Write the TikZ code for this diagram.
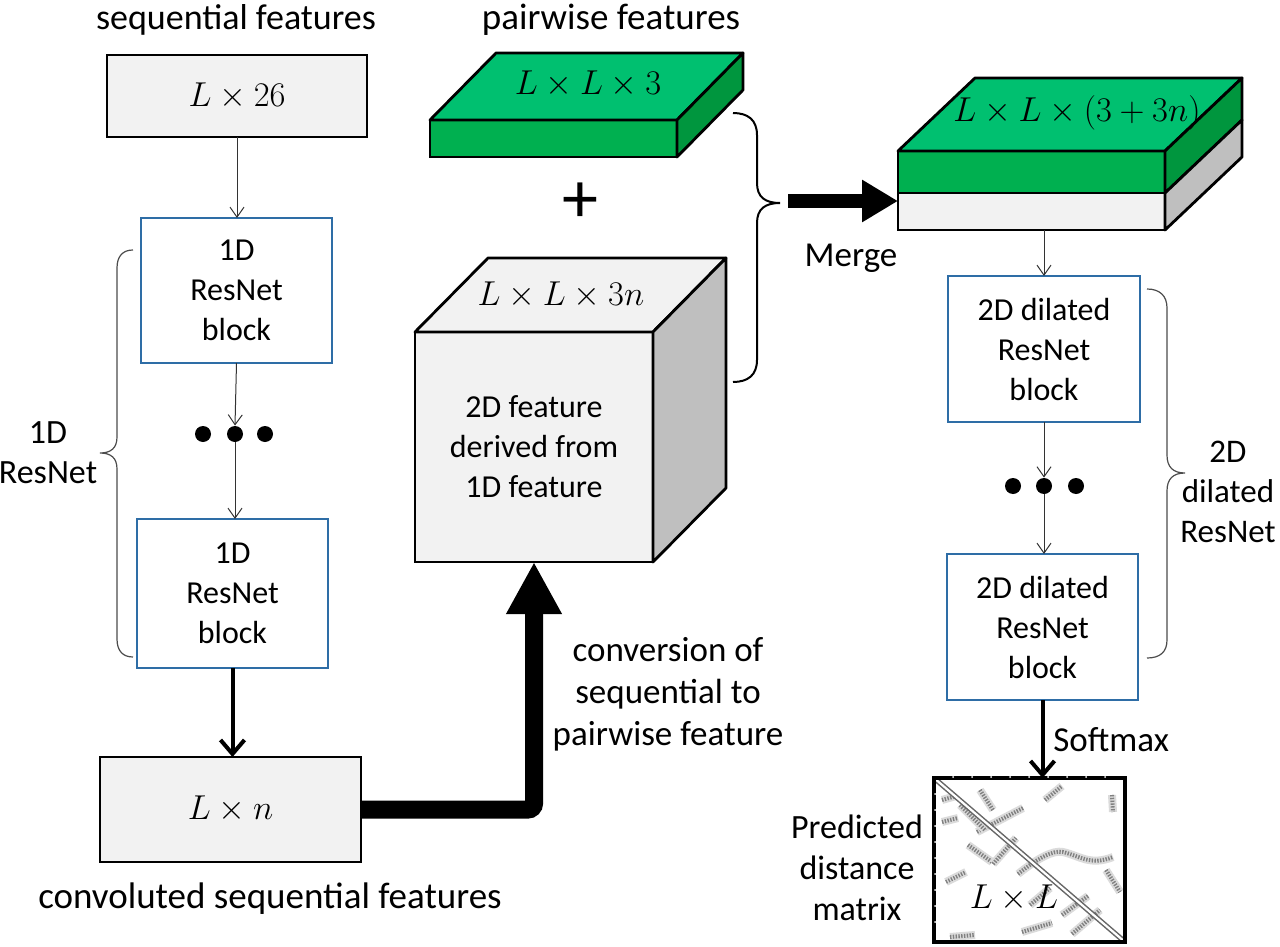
\documentclass[tikz,border=0pt]{standalone}
\usepackage[no-math]{fontspec}
\setmainfont{Carlito}
\usetikzlibrary{arrows.meta,calc}
\definecolor{boxgray}{HTML}{F2F2F2}
\definecolor{sidegray}{HTML}{BFBFBF}
\definecolor{resblue}{HTML}{2E6DA6}
\definecolor{gtop}{RGB}{0,192,112}
\definecolor{gfront}{RGB}{0,176,80}
\definecolor{gside}{RGB}{0,150,62}
\begin{document}
\begin{tikzpicture}[x=0.5pt,y=-0.5pt, font=\fontsize{16}{20}\selectfont]
\useasboundingbox (0,0) rectangle (1280,947);
\tikzset{
 graybox/.style={draw=black, line width=1.4pt, fill=boxgray, inner sep=0pt, outer sep=0pt},
 slab/.style={draw=black, line width=1.4pt, inner sep=0pt, outer sep=0pt},
 face/.style={draw=black, line width=1.4pt, line join=round},
 resbox/.style={draw=resblue, line width=1.3pt, fill=white, align=center, inner sep=0pt, outer sep=0pt},
 thinarr/.style={draw=black!80, line width=0.5pt, -{Straight Barb[length=5pt,width=7pt]}},
 thickarr/.style={line width=2pt, -{Straight Barb[length=7pt,width=12pt]}},
 bigarr/.style={line width=9pt, -{Triangle[length=26pt,width=26pt]}, rounded corners=3pt},
 mergearr/.style={line width=7pt, -{Triangle[length=18pt,width=20pt]}},
 lbl/.style={align=center, inner sep=0pt},
 biglbl/.style={align=center, inner sep=0pt, font=\fontsize{18.5}{21}\selectfont},
 midlbl/.style={align=center, inner sep=0pt, font=\fontsize{17.5}{21}\selectfont},
 mathsize/.style={font=\fontsize{17}{20}\selectfont},
 bigdot/.style={circle, fill=black, minimum size=8pt, inner sep=0pt},
 brace/.style={line width=0.6pt, draw=black!70},
 speck/.style={line width=2pt, draw=black!50, dash pattern=on 0.7pt off 0.7pt, line cap=butt,
   preaction={draw=black!14, line width=4pt, solid, line cap=butt}},
}
% ---------- left column ----------
\node[biglbl, font=\fontsize{18}{21}\selectfont] (seqlbl) at (236,20) {sequential features};
\node[graybox, mathsize, minimum width=130pt, minimum height=41pt] (seq) at (237,96) {$L\times 26$};
\node[resbox, minimum width=95.5pt, minimum height=72.5pt] (r1) at (236.5,290.5) {1D\\ResNet\\block};
\node[bigdot] (d1) at (203,434) {};
\node[bigdot] (d2) at (235,434) {};
\node[bigdot] (d3) at (265,434) {};
\node[resbox, minimum width=95.5pt, minimum height=74.5pt] (r2) at (232.5,593.5) {1D\\ResNet\\block};
\node[graybox, mathsize, minimum width=130.5pt, minimum height=52.5pt] (ln) at (230.5,809.5) {$L\times n$};
\node[biglbl] (convseq) at (270,899) {convoluted sequential features};
\node[lbl, font=\fontsize{17}{20}\selectfont] (resnet1d) at (48,453) {1D\\ResNet};
\draw[brace] (133,250) .. controls (123,250) and (117,256) .. (117,268) -- (117,437) .. controls (117,448) and (111,453) .. (100,453) .. controls (111,453) and (117,458) .. (117,469) -- (117,639) .. controls (117,651) and (123,657) .. (133,657);
\draw[thinarr] (seq.south) -- (seq.south |- r1.north);
\draw[thinarr] (r1.south) -- (d2.north);
\draw[thinarr] (d2.south) -- (d2.south |- r2.north);
\draw[thickarr] (r2.south) -- (r2.south |- ln.north);
% ---------- middle ----------
\node[biglbl] (pwtitle) at (611,20) {pairwise features};
\node[slab, fill=gfront, minimum width=123.5pt, minimum height=18.5pt] (pw) at (553.5,138.5) {};
\draw[face, fill=gtop] (pw.north west) -- ++(66,-67) -- ++(247,0) -- (pw.north east) -- cycle;
\draw[face, fill=gside] (pw.north east) -- ++(66,-67) -- ++(0,37) -- (pw.south east) -- cycle;
\node[font=\fontsize{18}{20}\selectfont] (pwlbl) at (588,84) {$L\times L\times 3$};
\node (plus) at (580,203) {\fontsize{36}{36}\selectfont +};
\node[graybox, align=center, minimum width=119pt, minimum height=115pt] (cube) at (534,447) {2D feature\\derived from\\1D feature};
\draw[face, fill=boxgray] (cube.north west) -- ++(73,-74) -- ++(238,0) -- (cube.north east) -- cycle;
\draw[face, fill=sidegray] (cube.north east) -- ++(73,-74) -- ++(0,230) -- (cube.south east) -- cycle;
\node[mathsize] (cubelbl) at (561,295) {$L\times L\times 3n$};
\draw[bigarr] (ln.east) -| (cube.south);
\node[midlbl] (convlbl) at (668,694) {conversion of\\sequential to\\pairwise feature};
% merge brace
\draw[line width=1pt] (733,113) .. controls (748,113) and (757,120) .. (757,135) -- (757,183) .. controls (757,197) and (765,203) .. (780,203) .. controls (765,203) and (757,209) .. (757,223) -- (757,360) .. controls (757,375) and (748,382) .. (733,382);
\coordinate (mtip) at (788,201);
% ---------- right column ----------
\node[slab, fill=gfront, minimum width=133.5pt, minimum height=21pt] (mg) at (1031.5,172) {};
\node[slab, fill=boxgray, minimum width=133.5pt, minimum height=18.5pt] (mw) at (1031.5,211.5) {};
\draw[face, fill=gtop] (mg.north west) -- ++(77,-73) -- ++(267,0) -- (mg.north east) -- cycle;
\draw[face, fill=gside] (mg.north east) -- ++(77,-73) -- ++(0,42) -- (mg.south east) -- cycle;
\draw[face, fill=sidegray] (mw.north east) -- ++(77,-73) -- ++(0,37) -- (mw.south east) -- cycle;
\node[font=\fontsize{17.5}{20}\selectfont] (mglbl) at (1077,113) {$L\times L\times (3+3n)$};
\draw[mergearr] (mtip) -- (mtip -| mg.west);
\node[midlbl] (mergelbl) at (851,258) {Merge};
\node[resbox, minimum width=96pt, minimum height=73pt] (dA) at (1044,349) {2D dilated\\ResNet\\block};
\node[bigdot] (e1) at (1013,486) {};
\node[bigdot] (e2) at (1044,486) {};
\node[bigdot] (e3) at (1076,486) {};
\node[resbox, minimum width=95.5pt, minimum height=73pt] (dB) at (1042.5,627) {2D dilated\\ResNet\\block};
\draw[thinarr] (dA.north |- mw.south) -- (dA.north);
\draw[thinarr] (dA.south) -- (e2.north);
\draw[thinarr] (e2.south) -- (e2.south |- dB.north);
\draw[brace] (1147,289) .. controls (1160,289) and (1167,296) .. (1167,308) -- (1167,455) .. controls (1167,467) and (1173,473) .. (1185,473) .. controls (1173,473) and (1167,479) .. (1167,491) -- (1167,640) .. controls (1167,652) and (1160,658) .. (1147,658);
\node[lbl, font=\fontsize{16.5}{20}\selectfont] (resnet2d) at (1228,492) {2D\\dilated\\ResNet};
% matrix
\node[draw, line width=1.6pt, fill=white, minimum width=95.5pt, minimum height=82pt, inner sep=0pt, outer sep=0pt] (mat) at (1029.5,860) {};
\begin{scope}
\clip (mat.north west) rectangle (mat.south east);
\draw[speck] (977,832) -- (1023,808);
\draw[speck] (960,805) -- (985,830);
\draw[speck] (980,790) -- (993,810);
\draw[speck] (968,845) -- (992,862);
\draw[speck] (993,864) -- (1016,838);
\draw[speck] (1045,800) -- (1062,786);
\draw[speck] (942,822) -- (958,818);
\draw[speck] (942,800) -- (956,796);
\draw[speck] (946,882) -- (966,872);
\draw[speck] (1018,874) .. controls (1038,858) and (1053,850) .. (1063,852) .. controls (1080,856) and (1090,866) .. (1113,857);
\draw[speck] (1062,915) -- (1088,896);
\draw[speck] (1072,934) -- (1100,910);
\draw[speck] (1022,932) -- (1052,923);
\draw[speck] (1106,870) -- (1120,892);
\draw[speck] (1030,905) -- (1050,888);
\draw[speck] (950,937) -- (975,935);
\draw[speck] (1112,795) -- (1113,812);
\draw[black!60, line width=2.6pt] (mat.north west) -- (mat.south east);
\draw[white, line width=1.1pt] (mat.north west) -- (mat.south east);
\end{scope}
\draw[line width=1.6pt] (mat.north west) rectangle (mat.south east);
\foreach \k in {1,...,9} {
  \fill[white] ($(mat.north west)+(0.5pt,-16*\k*0.5pt)$) circle (0.5pt);
  \fill[white] ($(mat.north west)+(19*\k*0.5pt,0.5pt)$) circle (0.5pt);
}
\node[font=\fontsize{18}{20}\selectfont] (matlbl) at (1014,898) {$L\times L$};
\draw[thickarr] (dB.south) -- (dB.south |- mat.north);
\node[midlbl, anchor=west] (smx) at (1053,740) {Softmax};
\node[lbl, font=\fontsize{17}{20.5}\selectfont] (predlbl) at (857,868) {Predicted\\distance\\matrix};
\end{tikzpicture}
\end{document}
